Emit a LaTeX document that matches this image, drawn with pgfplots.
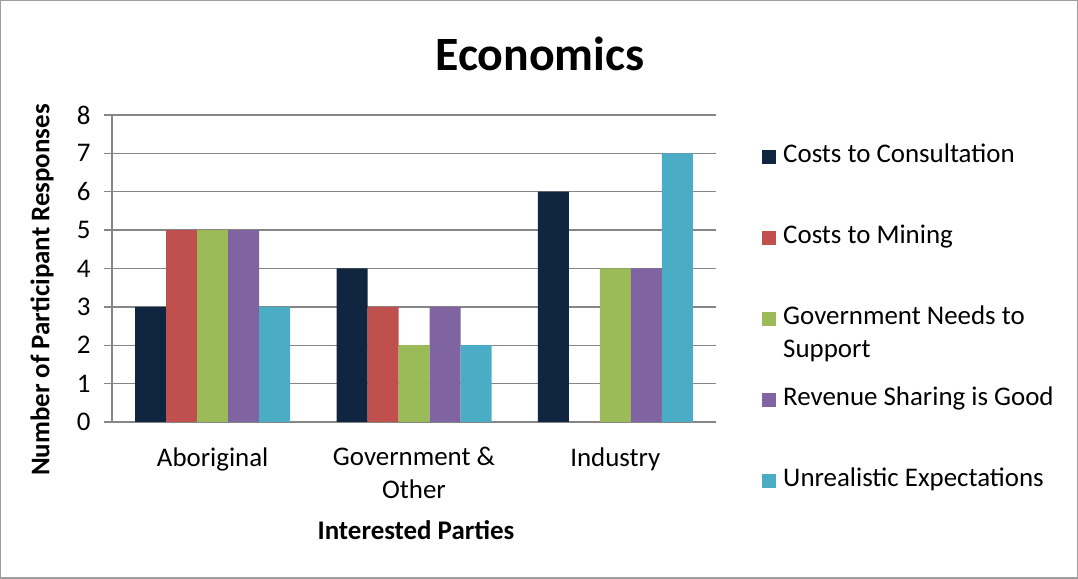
\documentclass[border=0pt]{standalone}
\usepackage{pgfplots}
\pgfplotsset{compat=1.18}
\usepackage{fontspec}
\setmainfont{Carlito}
\definecolor{cA}{HTML}{10253F}
\definecolor{cB}{HTML}{C0504D}
\definecolor{cC}{HTML}{9BBB59}
\definecolor{cD}{HTML}{8064A2}
\definecolor{cE}{HTML}{4BACC6}
\definecolor{gridc}{HTML}{868686}
\newcommand{\fs}{\fontsize{27}{32.5}\selectfont}
\begin{document}
\begin{tikzpicture}[x=1bp,y=1bp]
\draw[line width=1.5bp, color=gridc!80] (0.75,0.75) rectangle (1077.25,578.25);
\begin{axis}[
  at={(112bp,157bp)}, anchor=south west,
  width=604bp, height=307bp, scale only axis,
  ybar=0pt, bar width=31bp,
  xmin=-0.5, xmax=2.5, ymin=0, ymax=8,
  xtick={0,1,2},
  xticklabels={Aboriginal,{Government \&\\Other},Industry},
  xticklabel style={align=center, font=\fs, text=black, yshift=-14bp},
  x tick style={draw=none},
  ytick={0,1,...,8},
  yticklabel style={font=\fs, text=black, xshift=-10bp},
  /pgf/number format/assume math mode=true,
  tick align=outside, major tick length=8bp,
  y tick style={gridc, line width=1.3bp},
  axis x line*=bottom, axis y line*=left,
  axis line style={gridc, line width=1.3bp, -},
  ymajorgrids, grid style={gridc, line width=1.3bp},
  legend style={draw=none, fill=none, inner sep=0pt, at={(axis description cs:1.0762,0.904)}, anchor=north west,
    font=\fs, row sep=57bp, nodes={inner sep=0pt, text height=18bp, text depth=6bp}},
  legend cell align=left,
  legend image code/.code={\fill[#1] (0bp,-7bp) rectangle (14bp,7bp); \path (21bp,0bp);},
]
\addplot[fill=cA, draw=none] coordinates {(0,3) (1,4) (2,6)};
\addplot[fill=cB, draw=none] coordinates {(0,5) (1,3) (2,0)};
\addplot[fill=cC, draw=none] coordinates {(0,5) (1,2) (2,4)};
\addplot[fill=cD, draw=none] coordinates {(0,5) (1,3) (2,4)};
\addplot[fill=cE, draw=none] coordinates {(0,3) (1,2) (2,7)};
\legend{Costs to Consultation, Costs to Mining, {\raisebox{0pt}[\height][0pt]{\parbox[t]{270bp}{\fs Government Needs to\\Support}}}, Revenue Sharing is Good, Unrealistic Expectations}
\end{axis}
\node[font=\fontsize{48}{56}\selectfont\bfseries] at (540,525) {Economics};
\node[font=\fs\bfseries, rotate=90] at (42,289) {Number of Participant Responses};
\node[font=\fs\bfseries] at (416,49) {Interested Parties};
\end{tikzpicture}
\end{document}
